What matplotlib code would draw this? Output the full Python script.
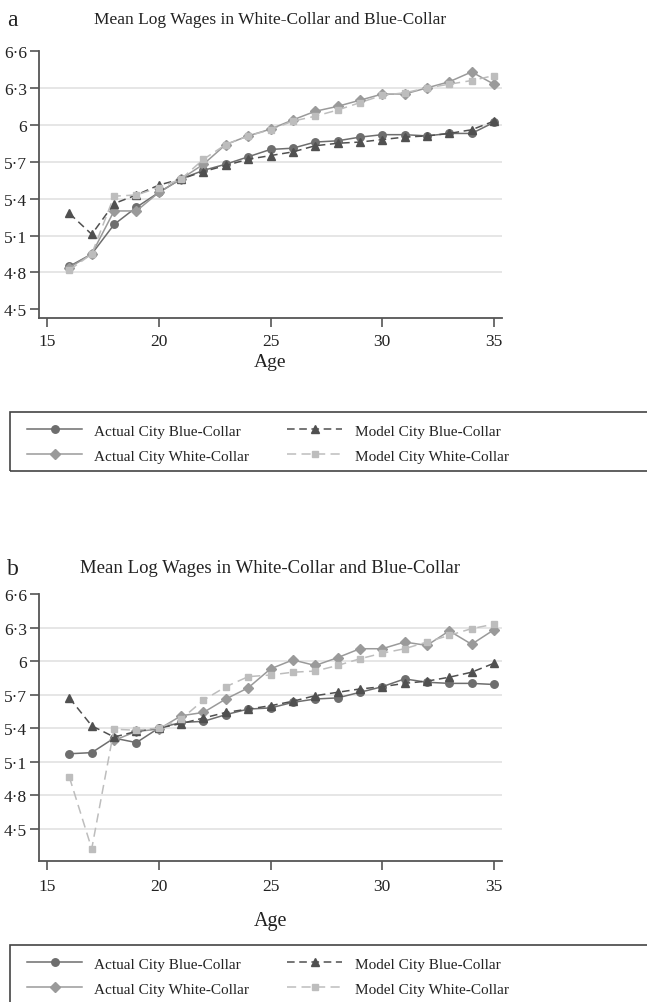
import matplotlib
matplotlib.use("Agg")
import matplotlib.pyplot as plt
from matplotlib.lines import Line2D
from matplotlib.patches import Rectangle

plt.rcParams['font.family'] = ['Liberation Serif', 'DejaVu Serif']

ages = list(range(16, 36))

# panel a
actual_blue_a = [4.85, 4.95, 5.19, 5.33, 5.45, 5.56, 5.63, 5.68, 5.74, 5.80,
                 5.81, 5.86, 5.87, 5.90, 5.92, 5.92, 5.91, 5.93, 5.93, 6.02]
model_blue_a = [5.28, 5.11, 5.36, 5.43, 5.51, 5.56, 5.62, 5.67, 5.72, 5.75,
                5.78, 5.83, 5.85, 5.86, 5.88, 5.90, 5.91, 5.93, 5.96, 6.03]
actual_white_a = [4.84, 4.95, 5.30, 5.30, 5.45, 5.56, 5.68, 5.84, 5.91, 5.965,
                  6.04, 6.11, 6.15, 6.20, 6.25, 6.25, 6.30, 6.35, 6.43, 6.33]
model_white_a = [4.82, 4.95, 5.42, 5.43, 5.49, 5.56, 5.72, 5.84, 5.91, 5.96,
                 6.03, 6.07, 6.12, 6.18, 6.24, 6.26, 6.30, 6.33, 6.36, 6.40]

# panel b (actual white-collar starts at age 18)
actual_blue_b = [5.17, 5.18, 5.31, 5.27, 5.40, 5.45, 5.46, 5.52, 5.57, 5.58,
                 5.63, 5.66, 5.67, 5.72, 5.77, 5.84, 5.81, 5.80, 5.80, 5.79]
model_blue_b = [5.67, 5.42, 5.32, 5.37, 5.40, 5.44, 5.49, 5.54, 5.57, 5.60,
                5.64, 5.69, 5.72, 5.75, 5.77, 5.80, 5.82, 5.855, 5.90, 5.98]
actual_white_b = [None, None, 5.29, 5.37, 5.39, 5.51, 5.54, 5.66, 5.76, 5.93,
                  6.01, 5.96, 6.03, 6.11, 6.11, 6.17, 6.14, 6.27, 6.15, 6.28]
model_white_b = [4.96, 4.32, 5.39, 5.38, 5.40, 5.48, 5.65, 5.77, 5.86, 5.875,
                 5.90, 5.91, 5.96, 6.02, 6.07, 6.11, 6.17, 6.23, 6.29, 6.33]

labels = ['Actual City Blue-Collar', 'Actual City White-Collar',
          'Model City Blue-Collar', 'Model City White-Collar']
title = 'Mean Log Wages in White-Collar and Blue-Collar'
yticks = [4.5, 4.8, 5.1, 5.4, 5.7, 6.0, 6.3, 6.6]
yticklabels = ['4·5', '4·8', '5·1', '5·4', '5·7', '6', '6·3', '6·6']
xticks = [15, 20, 25, 30, 35]

styles = [
    dict(color='#6e6e6e', marker='o', ms=5.4, ls='-'),
    dict(color='#9a9a9a', marker='D', ms=5.0, ls='-'),
    dict(color='#505050', marker='^', ms=6.0, ls=(0, (5, 3))),
    dict(color='#bdbdbd', marker='s', ms=5.0, ls=(0, (6, 3.5))),
]

W, H = 647, 1003
fig = plt.figure(figsize=(W / 100, H / 100), dpi=100)


def panel(top_px, bottom_px, ylo, grid, data, letter, title_base,
          title_fs, tick_pad, age_pad, age_fs):
    ax = fig.add_axes([39 / W, 1 - bottom_px / H, (502 - 39) / W,
                       (bottom_px - top_px) / H])
    for g in grid:
        ax.axhline(g, color='#e2e2e2', lw=1.2, zorder=0)
    for ys, st in zip(data, styles):
        xs = [a for a, v in zip(ages, ys) if v is not None]
        vs = [v for v in ys if v is not None]
        ax.plot(xs, vs, color=st['color'], ls=st['ls'], lw=1.1,
                marker=st['marker'], ms=st['ms'], mec=st['color'],
                mfc=st['color'], clip_on=False)
    ax.set_xlim(14.64, 35.36)
    ax.set_ylim(ylo, 6.6)
    ax.set_xticks(xticks)
    ax.set_yticks(yticks)
    ax.set_yticklabels(yticklabels)
    for s in ['top', 'right']:
        ax.spines[s].set_visible(False)
    for s in ['left', 'bottom']:
        ax.spines[s].set_color('#555555')
        ax.spines[s].set_linewidth(1.3)
    ax.tick_params(direction='out', length=6.5, width=1.2, color='#555555',
                   labelsize=12.5, labelcolor='#222222', pad=2)
    ax.tick_params(axis='x', pad=tick_pad)
    ax.set_xlabel('Age', fontsize=age_fs, color='#222222', labelpad=age_pad)
    fig.text(270 / W, 1 - title_base / H, title, ha='center', va='baseline',
             fontsize=title_fs, color='#222222')
    fig.text(7 / W, 1 - (title_base + 2) / H, letter, ha='left',
             va='baseline', fontsize=17, color='#222222')
    return ax


ax_a = panel(52, 319, 4.43, [4.8, 5.1, 5.4, 5.7, 6.0, 6.3],
             [actual_blue_a, actual_white_a, model_blue_a, model_white_a],
             'a', 24, 12.5, 4, 3, 14)
ax_b = panel(595, 862, 4.21, [4.5, 4.8, 5.1, 5.4, 5.7, 6.0, 6.3],
             [actual_blue_b, actual_white_b, model_blue_b, model_white_b],
             'b', 573, 13.5, 6, 12, 14.5)


def legend_box(top_px, bottom_px, row1_px):
    fig.patches.append(Rectangle((10 / W, 1 - bottom_px / H),
                                 660 / W, (bottom_px - top_px) / H,
                                 transform=fig.transFigure, fill=False,
                                 ec='#444444', lw=1.2, clip_on=False))
    handles = [Line2D([], [], color=st['color'], ls=st['ls'], lw=1.1,
                      marker=st['marker'], ms=st['ms'],
                      mec=st['color'], mfc=st['color']) for st in styles]
    fig.legend(handles, labels, ncol=2, loc='upper left',
               bbox_to_anchor=(27 / W, 1 - (row1_px - 5) / H),
               frameon=False, fontsize=11, handlelength=3.6,
               handletextpad=0.8, columnspacing=2.5, labelspacing=0.735,
               borderpad=0, borderaxespad=0, numpoints=1,
               labelcolor='#222222')


legend_box(413, 472, 430)
legend_box(946, 1010, 963)

fig.savefig('out.png', dpi=100)
